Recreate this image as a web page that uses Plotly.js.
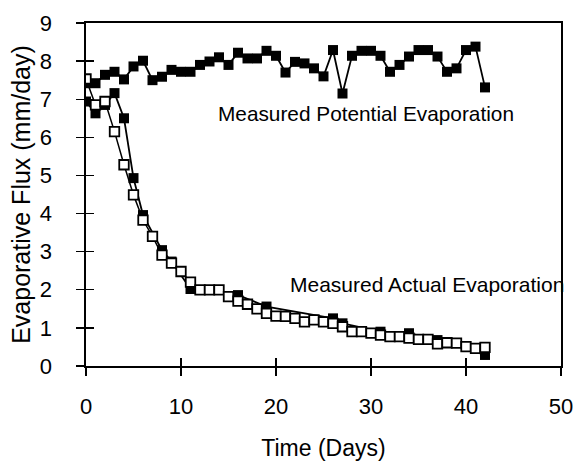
<!DOCTYPE html>
<html>
<head>
<meta charset="utf-8">
<script src="https://cdn.plot.ly/plotly-3.0.1.min.js"></script>
<style>html,body{margin:0;padding:0;background:#fff}#chart{width:576px;height:465px}</style>
</head>
<body>
<div id="chart"></div>
<script>
// Measured potential evaporation (filled squares), daily
const peDays = [0,1,2,3,4,5,6,7,8,9,10,11,12,13,14,15,16,17,18,19,20,21,22,23,24,25,26,27,28,29,30,31,32,33,34,35,36,37,38,39,40,41,42];
const peFlux = [7.42,7.42,7.64,7.72,7.52,7.86,8.01,7.50,7.59,7.77,7.72,7.72,7.90,7.99,8.10,7.90,8.22,8.07,8.07,8.27,8.14,7.70,7.98,7.94,7.81,7.60,8.29,7.15,8.14,8.27,8.27,8.14,7.72,7.90,8.12,8.29,8.29,8.12,7.72,7.81,8.29,8.38,7.31];

// Measured actual evaporation, filled squares
const aeFilledDays = [0,1,2,3,4,5,6,8,9,11,16,19,26,27,31,34,37,42];
const aeFilledFlux = [6.94,6.63,6.85,7.16,6.50,4.93,3.96,3.04,2.74,2.02,1.86,1.56,1.25,1.12,0.90,0.86,0.68,0.29];

// Measured actual evaporation, open squares, daily
const aeOpenDays = [0,1,2,3,4,5,6,7,8,9,10,11,12,13,14,15,16,17,18,19,20,21,22,23,24,25,26,27,28,29,30,31,32,33,34,35,36,37,38,39,40,41,42];
const aeOpenFlux = [7.53,6.85,6.94,6.15,5.28,4.49,3.83,3.40,2.91,2.70,2.48,2.20,2.00,2.00,2.00,1.82,1.70,1.62,1.50,1.38,1.31,1.30,1.25,1.16,1.21,1.16,1.12,1.03,0.90,0.90,0.86,0.81,0.77,0.77,0.73,0.70,0.70,0.58,0.61,0.60,0.51,0.46,0.49];

const xTicks = [0,10,20,30,40,50];
const yTicks = [0,1,2,3,4,5,6,7,8,9];
const xTitle = 'Time (Days)';
const yTitle = 'Evaporative Flux (mm/day)';
const labelPE = 'Measured Potential Evaporation';
const labelAE = 'Measured Actual Evaporation';

const FONT = 'Arial, "Liberation Sans", sans-serif';

const traces = [
  {x: peDays, y: peFlux, type: 'scatter', mode: 'lines+markers',
   line: {color: '#000', width: 1.8},
   marker: {symbol: 'square', size: 10, color: '#000'}},
  {x: aeFilledDays, y: aeFilledFlux, type: 'scatter', mode: 'lines+markers',
   line: {color: '#000', width: 1.8},
   marker: {symbol: 'square', size: 10, color: '#000'}},
  {x: aeOpenDays, y: aeOpenFlux, type: 'scatter', mode: 'lines+markers',
   line: {color: '#000', width: 1.5},
   marker: {symbol: 'square', size: 9.5, color: '#fff', line: {color: '#000', width: 1.8}}},
  // invisible trace on overlay axes to show inward ticks
  {x: [0], y: [0], xaxis: 'x2', yaxis: 'y2', mode: 'markers', marker: {opacity: 0}, hoverinfo: 'skip'}
];

const layout = {
  width: 576, height: 465,
  margin: {l: 85.5, r: 15, t: 23, b: 99},
  paper_bgcolor: '#fff', plot_bgcolor: '#fff',
  showlegend: false,
  font: {family: FONT, color: '#000'},
  xaxis: {
    range: [0, 50], tickvals: xTicks, ticktext: xTicks.map(String),
    showgrid: false, zeroline: false,
    showline: true, linecolor: '#000', linewidth: 1.6, mirror: true,
    ticks: 'outside', ticklen: 8, tickwidth: 1.4, tickcolor: '#000',
    tickfont: {size: 22, family: FONT}, ticklabelstandoff: 12,
    title: {text: xTitle, font: {size: 23, family: FONT}, standoff: 22}
  },
  yaxis: {
    range: [0, 9], tickvals: yTicks, ticktext: yTicks.map(String),
    showgrid: false, zeroline: false,
    showline: true, linecolor: '#000', linewidth: 1.6, mirror: true,
    ticks: 'outside', ticklen: 8, tickwidth: 1.4, tickcolor: '#000',
    tickfont: {size: 22, family: FONT}, ticklabelstandoff: 20,
    title: {text: yTitle, font: {size: 25, family: FONT}, standoff: 2}
  },
  xaxis2: {
    overlaying: 'x', range: [0, 50], tickvals: xTicks, showticklabels: false,
    showgrid: false, zeroline: false, showline: false,
    ticks: 'inside', ticklen: 8, tickwidth: 1.4, tickcolor: '#000', anchor: 'y2', side: 'bottom'
  },
  yaxis2: {
    overlaying: 'y', range: [0, 9], tickvals: yTicks, showticklabels: false,
    showgrid: false, zeroline: false, showline: false,
    ticks: 'inside', ticklen: 8, tickwidth: 1.4, tickcolor: '#000', anchor: 'x2', side: 'left'
  },
  annotations: [
    {x: 13.7, y: 6.62, xref: 'x', yref: 'y', text: labelPE, showarrow: false,
     xanchor: 'left', yanchor: 'middle', font: {size: 20.8, family: FONT}},
    {x: 21.25, y: 2.14, xref: 'x', yref: 'y', text: labelAE, showarrow: false,
     xanchor: 'left', yanchor: 'middle', font: {size: 21, family: FONT}}
  ]
};

Plotly.newPlot('chart', traces, layout, {displayModeBar: false, staticPlot: true});
</script>
</body>
</html>
